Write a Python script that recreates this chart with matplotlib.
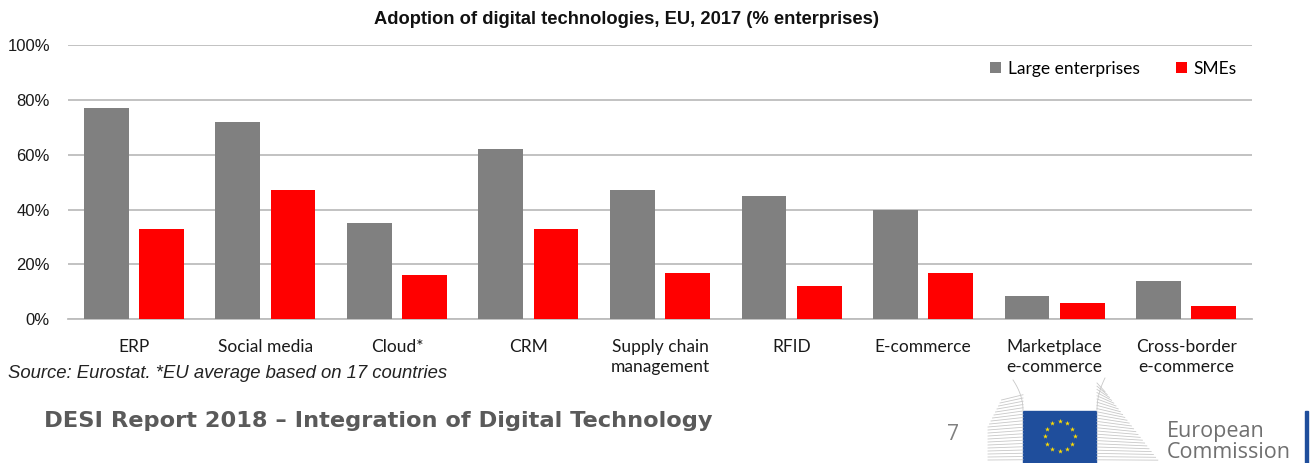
import numpy as np
import matplotlib.pyplot as plt

# Adoption of digital technologies, EU 2017 (% of enterprises)
categories = ["ERP", "Social media", "Cloud*", "CRM", "Supply chain\nmanagement",
              "RFID", "E-commerce", "Marketplace\ne-commerce", "Cross-border\ne-commerce"]
large = [77, 72, 35, 62, 47, 45, 40, 8.5, 14]
smes = [33, 47, 16, 33, 17, 12, 17, 6, 5]
yticks = [0, 20, 40, 60, 80, 100]

GREY = "#808080"
RED = "#ff0000"
W, H = 1312, 463

fig = plt.figure(figsize=(W / 100, H / 100), dpi=100)
ax = fig.add_axes([68 / W, 1 - 319.3 / H, (1252 - 68) / W, (319.3 - 45) / H])

x = np.arange(len(categories))
bw = 0.34
ax.bar(x - 0.21, large, bw, color=GREY, label="Large enterprises", zorder=3)
ax.bar(x + 0.21, smes, bw, color=RED, label="SMEs", zorder=3)

ax.set_xlim(-0.5, len(categories) - 0.5)
ax.set_ylim(0, 100)
ax.set_yticks(yticks)
ax.set_yticklabels([f"{t}%" for t in yticks], family="Liberation Sans", fontsize=12)
ax.set_xticks(x)
ax.set_xticklabels(categories, family="Lato", fontsize=12.5, linespacing=1.3,
                   va="top")
ax.tick_params(axis="both", length=0, colors="#1a1a1a")
ax.tick_params(axis="y", pad=13)
ax.tick_params(axis="x", pad=14)
ax.yaxis.grid(True, color="#bdbdbd", linewidth=1.3)
ax.set_axisbelow(True)
for s in ["top", "right", "left"]:
    ax.spines[s].set_visible(False)
ax.spines["bottom"].set_color("#bdbdbd")
ax.spines["bottom"].set_linewidth(1.3)

leg = ax.legend(ncol=2, frameon=False, loc="upper right",
                bbox_to_anchor=(1.0, 1.0), prop={"family": "Lato", "size": 12.5},
                handlelength=0.65, handleheight=0.65, handletextpad=0.35,
                columnspacing=2.1)

fig.text(627 / W, 1 - 19 / H, "Adoption of digital technologies, EU, 2017 (% enterprises)",
         ha="center", va="center", family="Liberation Sans", fontweight="bold",
         fontsize=13.2, color="#111111")
fig.text(8 / W, 1 - 374 / H, "Source: Eurostat. *EU average based on 17 countries",
         ha="left", va="center", family="Liberation Sans", style="italic",
         fontsize=13.3, color="#222222")
fig.text(44 / W, 1 - 421 / H, "DESI Report 2018 \u2013 Integration of Digital Technology",
         ha="left", va="center", family="DejaVu Sans", fontweight="bold",
         fontsize=16.2, color="#5a5a5a")
fig.text(953 / W, 1 - 435 / H, "7", ha="center", va="center",
         family="Open Sans", fontsize=15, color="#808080")

# Commission logo in pixel coordinates
lg = fig.add_axes([0, 0, 1, 1], zorder=5)
lg.set_xlim(0, W)
lg.set_ylim(H, 0)
lg.axis("off")
lg.patch.set_alpha(0)

# building outline lines
for i in range(22):
    y0 = 463 - i * 3
    left = 988 + max(0, i - 12) * 1.5
    lg.plot([left, 1023], [y0, y0 - i * 0.25], color="#c8c8c8", lw=0.6)
for i in range(26):
    y0 = 463 - i * 3.2
    right = 1160 - i * 2.2
    lg.plot([1097, right], [y0, y0 + i * 0.35], color="#c8c8c8", lw=0.6)
t = np.linspace(0, 1, 30)
lg.plot(1023 - 10 * t ** 2, 410 - 30 * t, color="#c8c8c8", lw=0.6)
lg.plot(1097 + 8 * t ** 2, 410 - 32 * t, color="#c8c8c8", lw=0.6)

lg.add_patch(plt.Rectangle((1023, 411), 73, 52, color="#1f4e9c"))
ang = np.linspace(0, 2 * np.pi, 13)[:-1]
lg.scatter(1059.5 + 15 * np.cos(ang), 436 + 15 * np.sin(ang), marker="*",
           s=14, color="#ffdd00", linewidths=0)
lg.text(1167, 431, "European", ha="left", va="center", family="Open Sans",
        fontsize=15.5, color="#707070")
lg.text(1167, 453, "Commission", ha="left", va="center", family="Open Sans",
        fontsize=15.5, color="#707070")
lg.add_patch(plt.Rectangle((1305, 411), 3, 52, color="#1f4e9c"))

fig.savefig("out.png", dpi=100)
